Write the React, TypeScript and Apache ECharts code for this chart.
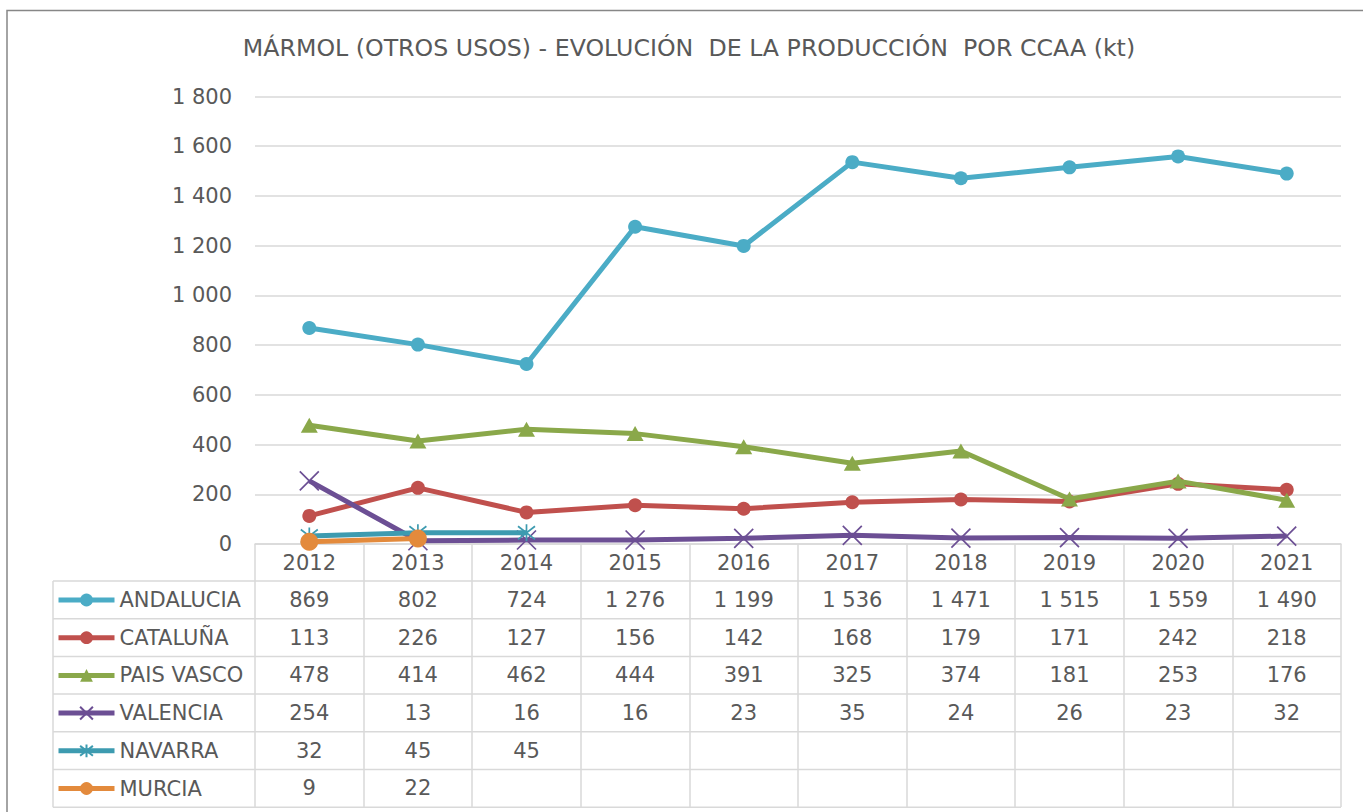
import React, { useEffect, useRef } from "react";
import * as echarts from "echarts";

const years = ["2012", "2013", "2014", "2015", "2016", "2017", "2018", "2019", "2020", "2021"];
const andalucia = [869, 802, 724, 1276, 1199, 1536, 1471, 1515, 1559, 1490];
const cataluna = [113, 226, 127, 156, 142, 168, 179, 171, 242, 218];
const paisVasco = [478, 414, 462, 444, 391, 325, 374, 181, 253, 176];
const valencia = [254, 13, 16, 16, 23, 35, 24, 26, 23, 32];
const navarra = [32, 45, 45, null, null, null, null, null, null, null];
const murcia = [9, 22, null, null, null, null, null, null, null, null];

const seriesNames = ["ANDALUCIA", "CATALUÑA", "PAIS VASCO", "VALENCIA", "NAVARRA", "MURCIA"];
const seriesData = [andalucia, cataluna, paisVasco, valencia, navarra, murcia];
const seriesColors = ["#4bacc6", "#c0504d", "#8aa84a", "#6c4f94", "#3d9bb0", "#e38a3c"];

const yMin = 0;
const yMax = 1800;
const yInterval = 200;

const titleText = "MÁRMOL (OTROS USOS) - EVOLUCIÓN  DE LA PRODUCCIÓN  POR CCAA (kt)";

const FONT = "DejaVu Sans";
const TEXT = "#595959";
const GRIDC = "#d9d9d9";

const fmt = (v: number) => {
  if (v >= 1000) return `${Math.floor(v / 1000)} ${String(v % 1000).padStart(3, "0")}`;
  return String(v);
};

const xPath = "path://M0,0L10,10M10,0L0,10";
const starPath = "path://M0,0L10,10M10,0L0,10M5,-1.5L5,11.5";

const symbols = ["circle", "circle", "triangle", xPath, starPath, "circle"];
const symbolSizes: any[] = [14, 14, [17, 15], 19, 17, 18];

export default function App() {
  const ref = useRef<HTMLDivElement>(null);

  useEffect(() => {
    if (!ref.current) return;
    const chart = echarts.init(ref.current, null, { renderer: "svg" });

    const series = seriesNames.map((name, k) => {
      const isLineSym = k === 3 || k === 4;
      return {
        name,
        type: "line",
        data: seriesData[k],
        symbol: symbols[k],
        symbolSize: symbolSizes[k],
        showAllSymbol: true,
        connectNulls: false,
        lineStyle: { color: seriesColors[k], width: 5 },
        itemStyle: isLineSym
          ? { color: seriesColors[k], borderColor: seriesColors[k], borderWidth: 1.7 }
          : { color: seriesColors[k], borderWidth: 0 },
        z: 2 + k,
      };
    });

    const gridTop = 96.5;
    const gridBottomY = 544;
    const gridLeft = 255;
    const gridRightX = 1341;

    chart.setOption({
      animation: false,
      backgroundColor: "#ffffff",
      textStyle: { fontFamily: FONT },
      grid: {
        left: gridLeft,
        right: 1363 - gridRightX,
        top: gridTop,
        bottom: 812 - gridBottomY,
        containLabel: false,
        outerBoundsMode: "none",
      },
      legend: {
        orient: "vertical",
        left: 56,
        top: 588,
        padding: 0,
        itemWidth: 56,
        itemHeight: 16,
        itemGap: 13.7,
        selectedMode: false,
        lineStyle: { width: 5 },
        textStyle: { fontFamily: FONT, fontSize: 21, color: TEXT, lineHeight: 24 },
        data: seriesNames,
      },
      xAxis: {
        type: "category",
        data: years,
        boundaryGap: true,
        axisLine: { show: true, lineStyle: { color: GRIDC, width: 1.5 } },
        axisTick: { show: true, interval: 0, length: 263, lineStyle: { color: GRIDC, width: 1.5 } },
        axisLabel: { interval: 0, fontSize: 21, color: TEXT, margin: 8, fontFamily: FONT },
        splitLine: { show: false },
      },
      yAxis: {
        type: "value",
        min: yMin,
        max: yMax,
        interval: yInterval,
        axisLine: { show: false },
        axisTick: { show: false },
        axisLabel: { fontSize: 21, color: TEXT, margin: 23, fontFamily: FONT, formatter: (v: number) => fmt(v) },
        splitLine: { lineStyle: { color: GRIDC, width: 1.5 } },
      },
      series,
    });

    const zeroY = chart.convertToPixel({ yAxisIndex: 0 }, 0) as number;
    const headerH = 37;
    const rowH = 37.7;
    const tableLeft = 53;
    const firstRowTop = zeroY + headerH;
    const nRows = seriesNames.length;

    const graphics: any[] = [];
    graphics.push({
      type: "rect",
      silent: true,
      shape: { x: 7, y: 10.5, width: 1400, height: 900 },
      style: { fill: "none", stroke: "#878787", lineWidth: 1.5 },
      z: 0,
    });
    graphics.push({
      type: "text",
      x: 689,
      y: 48,
      style: {
        text: titleText,
        align: "center",
        verticalAlign: "middle",
        fontFamily: FONT,
        fontSize: 23.7,
        fill: TEXT,
      },
    });
    for (let r = 0; r <= nRows; r++) {
      const y = firstRowTop + r * rowH;
      graphics.push({
        type: "line",
        silent: true,
        shape: { x1: tableLeft, y1: y, x2: gridRightX, y2: y },
        style: { stroke: GRIDC, lineWidth: 1.5 },
        z: 1,
      });
    }
    graphics.push({
      type: "line",
      silent: true,
      shape: { x1: tableLeft, y1: firstRowTop, x2: tableLeft, y2: firstRowTop + nRows * rowH },
      style: { stroke: GRIDC, lineWidth: 1.5 },
      z: 1,
    });
    seriesData.forEach((arr, k) => {
      const cy = firstRowTop + (k + 0.5) * rowH;
      arr.forEach((v, i) => {
        if (v === null || v === undefined) return;
        const cx = chart.convertToPixel({ xAxisIndex: 0 }, i) as number;
        graphics.push({
          type: "text",
          x: cx,
          y: cy,
          style: {
            text: fmt(v as number),
            align: "center",
            verticalAlign: "middle",
            fontFamily: FONT,
            fontSize: 21,
            fill: TEXT,
          },
          z: 2,
        });
      });
    });

    chart.setOption({ graphic: graphics });

    return () => chart.dispose();
  }, []);

  return (
    <div
      ref={ref}
      style={{ position: "fixed", left: 0, top: 0, width: 1363, height: 812, background: "#fff" }}
    />
  );
}
